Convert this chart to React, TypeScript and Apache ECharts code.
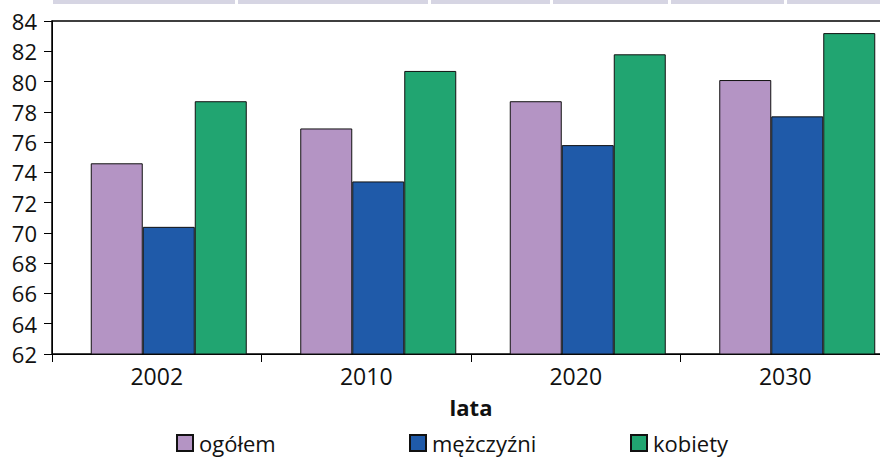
import React, { useEffect, useRef } from "react";
import * as echarts from "echarts";

// Life expectancy by year (lata) for all, men and women
const categories = ["2002", "2010", "2020", "2030"];
const ogolem = [74.6, 76.9, 78.7, 80.1];
const mezczyzni = [70.4, 73.4, 75.8, 77.7];
const kobiety = [78.7, 80.7, 81.8, 83.2];
const yTicks = { min: 62, max: 84, interval: 2 };

const seriesNames = ["ogółem", "mężczyźni", "kobiety"];
const seriesColors = ["#b494c4", "#1f5aa9", "#21a571"];

// header strip segments above the plot (x ranges)
const headerSegments: [number, number][] = [
  [53, 235],
  [238, 428],
  [431, 550],
  [553, 668],
  [671, 784],
  [787, 880],
];

const FONT = "'Open Sans', 'Noto Sans', sans-serif";

export default function App() {
  const ref = useRef<HTMLDivElement>(null);

  useEffect(() => {
    if (!ref.current) return;
    const chart = echarts.init(ref.current, undefined, { renderer: "svg" });

    const barSeries = [ogolem, mezczyzni, kobiety].map((data, i) => ({
      name: seriesNames[i],
      type: "bar",
      data,
      barWidth: 52,
      barGap: "0%",
      itemStyle: {
        color: seriesColors[i],
        borderColor: "#111",
        borderWidth: 1,
      },
    }));

    // empty spacer series nudges each bar group to the right of the category centre
    const spacer = {
      name: "spacer",
      type: "bar",
      data: categories.map(() => null),
      barWidth: 24,
      barGap: "0%",
      silent: true,
      itemStyle: { color: "transparent" },
    };

    const legendLefts = [176, 409, 630];

    chart.setOption({
      animation: false,
      textStyle: { fontFamily: FONT },
      grid: {
        left: 52,
        top: 21,
        width: 838,
        height: 333,
        show: true,
        borderColor: "#000",
        borderWidth: 1.5,
        backgroundColor: "transparent",
      },
      legend: seriesNames.map((name, i) => ({
        data: [name],
        left: legendLefts[i],
        top: 431,
        itemWidth: 16,
        itemHeight: 16,
        itemGap: 0,
        icon: "rect",
        padding: 0,
        selectedMode: false,
        textStyle: { fontSize: 22, lineHeight: 24, color: "#111", fontFamily: FONT, padding: [0, 0, 0, 1] },
      })),
      xAxis: {
        type: "category",
        data: categories,
        name: "lata",
        nameLocation: "middle",
        nameGap: 42,
        nameTextStyle: { fontSize: 22, fontWeight: "bold", color: "#111", fontFamily: FONT },
        axisLine: { lineStyle: { color: "#000", width: 1 } },
        axisTick: { show: true, length: 8, lineStyle: { color: "#000" } },
        axisLabel: { fontSize: 23, color: "#111", margin: 10, fontFamily: FONT },
        splitLine: { show: false },
      },
      yAxis: {
        type: "value",
        min: yTicks.min,
        max: yTicks.max,
        interval: yTicks.interval,
        axisLine: { show: true, lineStyle: { color: "#000", width: 1 } },
        axisTick: { show: true, length: 8, lineStyle: { color: "#000" } },
        axisLabel: { fontSize: 22, color: "#111", margin: 15, fontFamily: FONT },
        splitLine: { show: false },
      },
      series: [spacer, ...barSeries],
      graphic: headerSegments.map(([x0, x1]) => ({
        type: "rect",
        shape: { x: x0, y: 0, width: x1 - x0, height: 4 },
        style: { fill: "#d6d5e3" },
        silent: true,
      })),
    });

    return () => chart.dispose();
  }, []);

  return (
    <div
      style={{ position: "fixed", left: 0, top: 0, width: 880, height: 457, overflow: "hidden", background: "#fff" }}
    >
      <div ref={ref} style={{ width: 900, height: 457 }} />
    </div>
  );
}
